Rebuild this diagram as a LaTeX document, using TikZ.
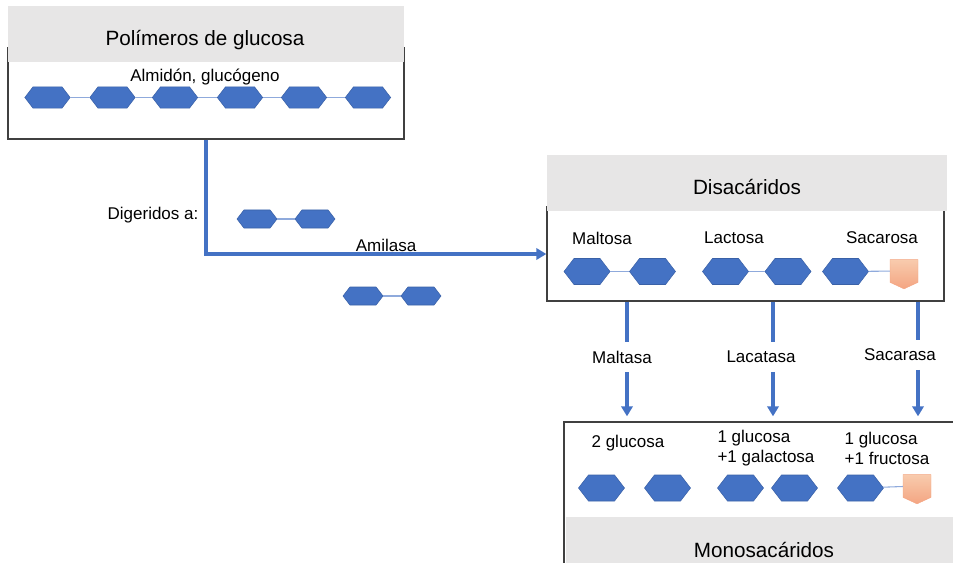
\documentclass[tikz,border=0pt]{standalone}
\usepackage{fontspec}
\setmainfont{Liberation Sans}
\usetikzlibrary{shapes.symbols,arrows.meta,fit}
\definecolor{hexblue}{RGB}{68,114,196}
\definecolor{linkblue}{RGB}{143,170,220}
\definecolor{headgray}{RGB}{231,230,230}
\definecolor{framegray}{RGB}{64,64,64}
\definecolor{fruA}{RGB}{248,203,173}
\definecolor{fruB}{RGB}{244,165,130}

\begin{document}
\begin{tikzpicture}[
    x=0.75pt, y=-0.75pt,
    every node/.style={font=\fontsize{12.75}{15}\selectfont},
    title/.style={font=\fontsize{15.5}{18}\selectfont},
    frame/.style={draw=framegray, line width=1pt, inner sep=0pt},
    header/.style={fill=headgray, inner sep=0pt},
    hexa/.style={signal, signal to=east and west, signal pointer angle=105, fill=hexblue,
      draw=hexblue!85!black, line width=0.4pt, inner sep=0pt, minimum width=34.5pt, minimum height=19.5pt},
    tophexa/.style={hexa, minimum width=34pt, minimum height=16pt},
    smallhexa/.style={hexa, minimum width=30pt, minimum height=13.5pt},
    fructo/.style={signal, signal to=south, signal pointer angle=130, top color=fruA, bottom color=fruB,
      draw=fruB, line width=0.3pt, inner sep=0pt, minimum width=21pt, minimum height=17pt},
    link/.style={draw=linkblue, line width=0.8pt},
    flow/.style={draw=hexblue, line width=2.4pt},
    arrow/.style={flow, -{Triangle[length=7.5pt,width=8.5pt]}, shorten >=3.75pt},
    enzyme/.style={inner ysep=6.5pt}
  ]
  \useasboundingbox (0,0) rectangle (953,563);
  \clip (0,0) rectangle (953,563);

  % polimeros
  \node[frame, fit={(8,48) (404,139)}] (polbox) {};
  \node[header, fit={(8,6) (404,62)}] (polhead) {};
  \node[title] (poltitle) at (205,40) {Polímeros de glucosa};
  \node (almidon) at (205,77) {Almidón, glucógeno};
  \foreach \x [count=\i] in {47.5,112.5,175,240,304,368}
    \node[tophexa] (p\i) at (\x,97.5) {};
  \foreach \a/\b in {1/2,2/3,3/4,4/5,5/6}
    \draw[link] (p\a) -- (p\b);

  % disacaridos
  \node[frame, fit={(547,207) (944,301)}] (disbox) {};
  \node[header, fit={(547,155) (947,211)}] (dishead) {};
  \node[title] (distitle) at (747,187) {Disacáridos};
  \node (maltosa) at (602,238) {Maltosa};
  \node (lactosa) at (734,238) {Lactosa};
  \node (sacarosa) at (882,238) {Sacarosa};
  \node[hexa] (m1) at (587,271.5) {};
  \node[hexa] (m2) at (652.5,271.5) {};
  \node[hexa] (l1) at (725.5,271.5) {};
  \node[hexa] (l2) at (788,271.5) {};
  \node[hexa] (s1) at (845.5,271.5) {};
  \node[fructo] (f1) at (904,271) {};
  \draw[link] (m1) -- (m2);
  \draw[link] (l1) -- (l2);
  \draw[link] (s1) -- (f1);

  % amilasa
  \node (digeridos) at (153,215) {Digeridos a:};
  \node[smallhexa] (d1) at (257,219) {};
  \node[smallhexa] (d2) at (315,219) {};
  \node[smallhexa] (d3) at (363,296) {};
  \node[smallhexa] (d4) at (421,296) {};
  \draw[link] (d1) -- (d2);
  \draw[link] (d3) -- (d4);
  \node (amilasa) at (386,245) {Amilasa};
  \draw[arrow, shorten >=0pt] (polbox.south) |- (disbox.west);

  % monosacaridos
  \node[frame, fit={(564,422) (975,600)}] (monobox) {};
  \node[header, fit={(566,517) (963,583)}] (monohead) {};
  \node[title] (monotitle) at (764,550) {Monosacáridos};
  \node (glu2) at (628,443) {2 glucosa};
  \node[align=left] (glugal) at (766,448) {1 glucosa\\+1 galactosa};
  \node[align=left] (glufru) at (887,448) {1 glucosa\\+1 fructosa};
  \node[hexa] (g1) at (601.5,488) {};
  \node[hexa] (g2) at (667.5,488) {};
  \node[hexa] (g3) at (740.5,488) {};
  \node[hexa] (ga) at (794.5,488) {};
  \node[hexa] (g4) at (860.5,488) {};
  \node[fructo] (fr) at (917,486) {};
  \draw[link] (g4) -- (fr);

  % enzimas
  \coordinate (xm) at (627,0);
  \coordinate (xl) at (773,0);
  \coordinate (xs) at (918,0);
  \node[enzyme] (maltasa) at (622,357) {Maltasa};
  \node[enzyme] (lacatasa) at (761,357) {Lacatasa};
  \node[enzyme] (sacarasa) at (900,355) {Sacarasa};
  \foreach \c/\e in {xm/maltasa, xl/lacatasa, xs/sacarasa} {
    \draw[flow] (\c |- disbox.south) -- (\c |- \e.north);
    \draw[arrow] (\c |- \e.south) -- (\c |- monobox.north);
  }
\end{tikzpicture}
\end{document}
